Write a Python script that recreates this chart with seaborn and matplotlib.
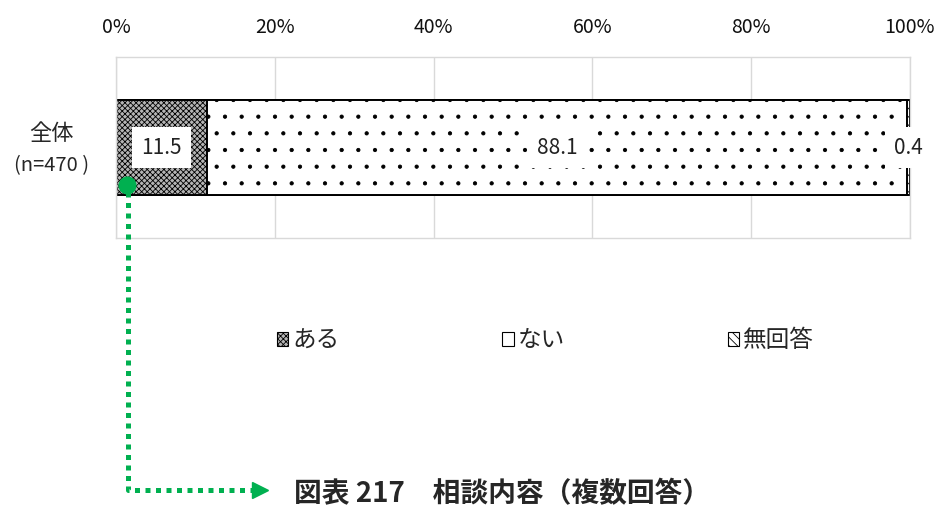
import matplotlib
matplotlib.use('Agg')
import matplotlib.pyplot as plt
import matplotlib.patches as mpatches
from matplotlib.lines import Line2D
import seaborn as sns

# data
category = ['全体']
n_label = '(n=470 )'
series = ['ある', 'ない', '無回答']
values = [11.5, 88.1, 0.4]
ticks = [0, 20, 40, 60, 80, 100]
tick_labels = ['0%', '20%', '40%', '60%', '80%', '100%']
title = '図表 217\u3000相談内容（複数回答）'

sns.set_theme(style='white')
plt.rcParams['font.family'] = ['Noto Sans CJK JP', 'DejaVu Sans']
plt.rcParams['hatch.linewidth'] = 0.6

styles = {
    'ある': dict(color='#b5b5b5', hatch='xxxxxx'),
    'ない': dict(color='white', hatch='.'),
    '無回答': dict(color='white', hatch='\\\\\\\\'),
}

fig, ax = plt.subplots(figsize=(9.4, 5.11), dpi=100)
fig.subplots_adjust(left=0.1234, right=0.968, top=0.8885, bottom=0.5342)

# stacked bar by overlapping cumulative totals, biggest first
cum = []
total = 0
for v in values:
    total += v
    cum.append(total)
for name, c in reversed(list(zip(series, cum))):
    st = styles[name]
    sns.barplot(x=[c], y=category, orient='h', ax=ax, color=st['color'],
                saturation=1, width=0.52, edgecolor='black', linewidth=1.4,
                hatch=st['hatch'], errorbar=None)

# value labels
left = 0
for v in values:
    ax.text(left + v / 2, 0, f'{v:.1f}', ha='center', va='center', fontsize=15,
            color='#222222', clip_on=False, zorder=5,
            bbox=dict(boxstyle='square,pad=0.45', fc='white', ec='none'))
    left += v

ax.set_xlim(0, 100)
ax.set_xticks(ticks)
ax.set_xticklabels(tick_labels, fontsize=14)
ax.xaxis.tick_top()
ax.tick_params(axis='x', length=0, pad=14, colors='#111111')
ax.set_yticks([])
ax.set_xlabel('')
ax.set_ylabel('')
ax.grid(axis='x', color='#d9d9d9', linewidth=1)
ax.set_axisbelow(True)
for s in ax.spines.values():
    s.set_color('#d9d9d9')
    s.set_linewidth(1)

# category label on the left
ax.text(-0.081, 0.58, category[0], transform=ax.transAxes, ha='center',
        va='center', fontsize=16)
ax.text(-0.081, 0.40, n_label, transform=ax.transAxes, ha='center',
        va='center', fontsize=14.5)

# legend
handles = [mpatches.Patch(facecolor=styles[s]['color'], hatch=styles[s]['hatch'],
                          edgecolor='black', linewidth=0.8, label=s) for s in series]
fig.legend(handles=handles, loc='center', bbox_to_anchor=(0.58, 0.333), ncol=3,
           frameon=False, fontsize=17, handlelength=0.5, handleheight=0.5,
           handletextpad=0.15, columnspacing=6.9)

# green arrow annotation
W, H = 940, 511
green = '#00b050'
fig.add_artist(Line2D([128 / W, 128 / W, 256 / W], [1 - 192 / H, 1 - 490 / H, 1 - 490 / H],
                      transform=fig.transFigure, color=green, linewidth=3.6,
                      dashes=(1, 1.1), dash_capstyle='butt', solid_joinstyle='miter'))
fig.add_artist(Line2D([127 / W], [1 - 185 / H], transform=fig.transFigure,
                      marker='o', markersize=12, color=green, linestyle='none'))
fig.add_artist(Line2D([260 / W], [1 - 490 / H], transform=fig.transFigure,
                      marker='>', markersize=12, color=green, linestyle='none'))

fig.text(294 / W, 1 - 494 / H, title, ha='left', va='center', fontsize=20,
         fontweight='bold')

fig.savefig('out.png', dpi=100)
